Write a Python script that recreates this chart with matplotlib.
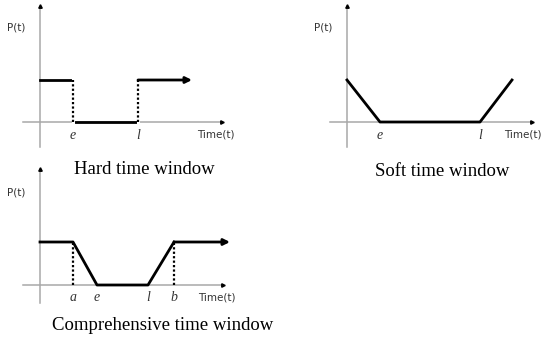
import matplotlib
matplotlib.use('Agg')
import matplotlib.pyplot as plt

# breakpoints of each penalty curve: time values and P(t) values
hard_time = [0, 3.3, 3.3, 9.8, 9.8, 15.2]
hard_p = [1, 1, 0, 0, 1, 1]
hard_marks = [3.3, 9.8]
hard_labels = ['e', 'l']

soft_time = [0, 3.3, 13.3, 16.5]
soft_p = [1, 0, 0, 1]
soft_marks = [3.3, 13.3]
soft_labels = ['e', 'l']

comp_time = [0, 3.3, 5.7, 10.8, 13.4, 19.0]
comp_p = [1, 1, 0, 0, 1, 1]
comp_marks = [3.3, 5.7, 10.8, 13.4]
comp_labels = ['a', 'e', 'l', 'b']
comp_dotted = [3.3, 13.4]

titles = ['Hard time window', 'Soft time window', 'Comprehensive time window']

W, H = 550, 354
GRAY = '#a8a8a8'

fig = plt.figure(figsize=(W / 100, H / 100), dpi=100)


def make_axes(origin, box, sx, sy):
    """ axes whose data units map to sx / sy pixels, origin in pixel coords """
    ox, oy = origin
    x0, y0, x1, y1 = box
    ax = fig.add_axes([x0 / W, (H - y1) / H, (x1 - x0) / W, (y1 - y0) / H])
    ax.set_xlim((x0 - ox) / sx, (x1 - ox) / sx)
    ax.set_ylim((oy - y1) / sy, (oy - y0) / sy)
    ax.axis('off')
    return ax


def draw_axes(ax, xmin, xmax, ymin, ymax):
    ax.plot([xmin, xmax], [0, 0], color=GRAY, lw=1.1, zorder=1)
    ax.plot([0, 0], [ymin, ymax], color=GRAY, lw=1.1, zorder=1)
    ax.plot(xmax, 0, marker='>', color='black', markersize=2.5, zorder=3)
    ax.plot(0, ymax, marker='^', color='black', markersize=2.5, zorder=3)


def label_axes(ax, tx, ty, px, py):
    ax.text(tx, ty, 'Time(t)', fontsize=7.5, family='DejaVu Sans',
            color='#333333', ha='center', va='center')
    ax.text(px, py, 'P(t)', fontsize=7.5, family='DejaVu Sans',
            color='#333333', ha='center', va='center')


def mark_labels(ax, marks, labels, y):
    for m, lab in zip(marks, labels):
        ax.text(m, y, lab, fontsize=10, family='Liberation Serif',
                style='italic', ha='center', va='center', color='#333333')


# Hard time window
ax1 = make_axes((40, 122), (0, 0, 245, 150), 10.0, 42.0)
draw_axes(ax1, -1.7, 18.2, -0.6, 2.75)
ax1.plot(hard_time[:-1], hard_p[:-1], color='black', lw=2, zorder=2,
         solid_joinstyle='miter')
ax1.plot(hard_time[1:3], hard_p[1:3], color='white', lw=2.2, zorder=2)
ax1.plot(hard_time[3:5], hard_p[3:5], color='white', lw=2.2, zorder=2)
for m in hard_marks:
    ax1.plot([m, m], [0, 1], color='black', lw=1.6, ls=(0, (1, 1)), zorder=2)
ax1.annotate('', xy=(hard_time[-1], hard_p[-1]), xytext=(hard_time[-2], hard_p[-2]),
             arrowprops=dict(arrowstyle='-|>', color='black', lw=2,
                             mutation_scale=9, shrinkA=0, shrinkB=0))
mark_labels(ax1, hard_marks, hard_labels, -0.31)
label_axes(ax1, 17.6, -0.29, -2.4, 2.24)

# Soft time window
ax2 = make_axes((347, 122), (290, 0, 550, 150), 10.0, 42.0)
draw_axes(ax2, -1.7, 18.5, -0.6, 2.75)
ax2.plot(soft_time, soft_p, color='black', lw=2, zorder=2)
mark_labels(ax2, soft_marks, soft_labels, -0.31)
label_axes(ax2, 17.6, -0.29, -2.4, 2.24)

# Comprehensive time window
ax3 = make_axes((40, 285), (0, 160, 245, 310), 10.0, 43.0)
draw_axes(ax3, -1.7, 18.3, -0.42, 2.7)
ax3.plot(comp_time[:-1], comp_p[:-1], color='black', lw=2, zorder=2)
for m in comp_dotted:
    ax3.plot([m, m], [0, 1], color='black', lw=1.6, ls=(0, (1, 1)), zorder=2)
ax3.annotate('', xy=(comp_time[-1], comp_p[-1]), xytext=(comp_time[-2], comp_p[-2]),
             arrowprops=dict(arrowstyle='-|>', color='black', lw=2,
                             mutation_scale=9, shrinkA=0, shrinkB=0))
mark_labels(ax3, comp_marks, comp_labels, -0.28)
label_axes(ax3, 17.7, -0.28, -2.4, 2.16)

# panel titles
fig.text(144 / W, 1 - 170 / H, titles[0], fontsize=13.5, family='Liberation Serif',
         ha='center', va='center')
fig.text(442 / W, 1 - 171 / H, titles[1], fontsize=13.5, family='Liberation Serif',
         ha='center', va='center')
fig.text(163 / W, 1 - 325 / H, titles[2], fontsize=13.5, family='Liberation Serif',
         ha='center', va='center')

plt.savefig('out.png', dpi=100)
plt.close()
